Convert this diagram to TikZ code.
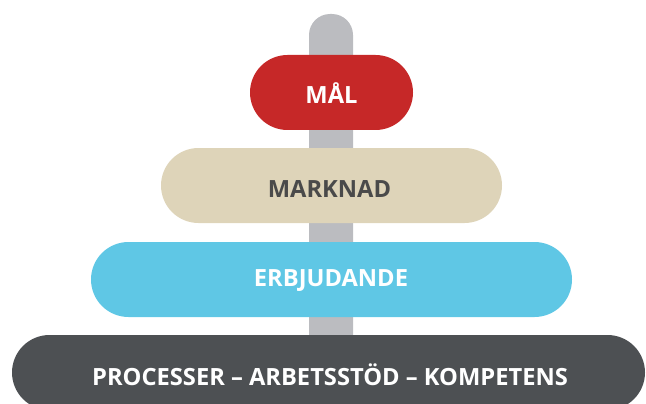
\documentclass[tikz,border=0pt]{standalone}
\usepackage{fontspec}
\setmainfont{Open Sans}
\definecolor{polegray}{HTML}{BBBCC0}
\definecolor{malred}{HTML}{C62828}
\definecolor{beige}{HTML}{DED4B9}
\definecolor{skyblue}{HTML}{5FC7E5}
\definecolor{darkgray}{HTML}{4D5053}
\definecolor{textgray}{HTML}{4A4A4A}
\begin{document}
\begin{tikzpicture}[x=1pt,y=-1pt,
  lbl/.style={font=\bfseries\fontsize{23.7}{28}\selectfont, text=white}]
\useasboundingbox (0,0) rectangle (646,404);
\begin{scope}
\clip (0,0) rectangle (646,404);
% pole
\fill[polegray, rounded corners=21pt] (309,14) rectangle (353,360);
% pills
\fill[malred, rounded corners=37.5pt] (250,55) rectangle (413,130);
\fill[beige, rounded corners=37.5pt] (161,148) rectangle (502,223);
\fill[skyblue, rounded corners=37.5pt] (91,242) rectangle (572,317);
\fill[darkgray, rounded corners=37.5pt] (12,335) rectangle (645,410);
\end{scope}
\node[lbl] (mal) at (331.5,93) {MÅL};
\node[lbl, text=textgray] (marknad) at (329.5,189) {MARKNAD};
\node[lbl] (erbjudande) at (331,280) {ERBJUDANDE};
\node[lbl] (processer) at (330,375) {PROCESSER – ARBETSSTÖD – KOMPETENS};
\end{tikzpicture}
\end{document}
